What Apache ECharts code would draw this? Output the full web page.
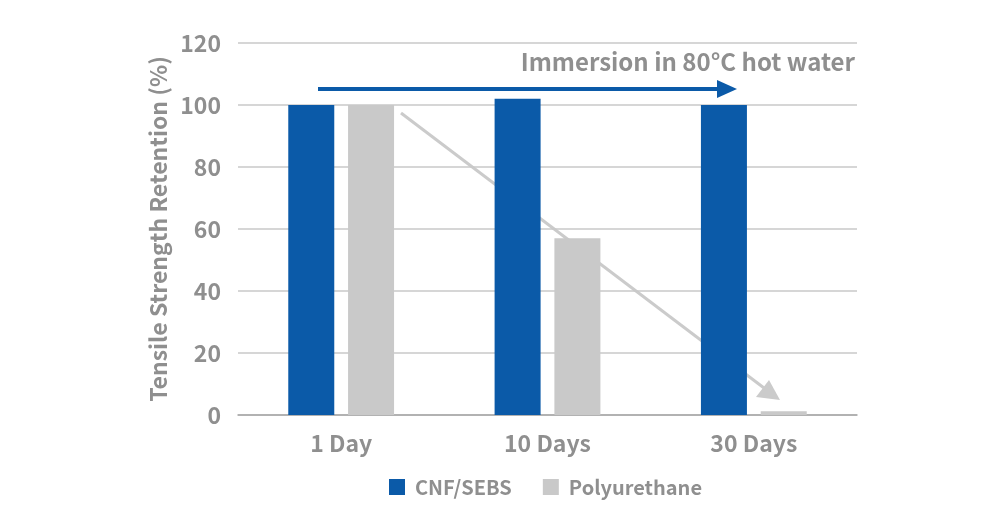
<!DOCTYPE html>
<html>
<head>
    <meta charset="UTF-8">
    <title>Tensile strength retention</title>
    <script src="https://cdn.jsdelivr.net/npm/echarts@6/dist/echarts.min.js"></script>
    <style>
        html, body { margin: 0; padding: 0; background: #fff; }
        #chart { width: 1000px; height: 530px; }
    </style>
</head>
<body>
    <div id="chart"></div>
    <script>
        var categories = ['1 Day', '10 Days', '30 Days'];
        var cnfSebs = [100, 102, 100];
        var polyurethane = [100, 57, 1.2];
        var yTicks = [0, 20, 40, 60, 80, 100, 120];

        var font = '"Noto Sans CJK JP", "Noto Sans", sans-serif';
        var textGray = '#8f8f8f';
        var blue = '#0b5aa8';
        var gray = '#c9c9c9';

        var chart = echarts.init(document.getElementById('chart'), null, {renderer: 'canvas'});

        chart.setOption({
            animation: false,
            grid: {left: 238, right: 143, top: 43, bottom: 115},
            legend: {
                top: 472,
                left: 384,
                itemWidth: 16,
                itemHeight: 16,
                itemGap: 31,
                icon: 'rect',
                textStyle: {color: textGray, fontSize: 20, fontWeight: 'bold', fontFamily: font, padding: [0, 0, 0, 5]},
                data: ['CNF/SEBS', 'Polyurethane']
            },
            xAxis: {
                type: 'category',
                data: categories,
                axisTick: {show: false},
                axisLine: {lineStyle: {color: '#a6a6a6', width: 1.5}},
                axisLabel: {color: textGray, fontSize: 23, fontWeight: 'bold', fontFamily: font, margin: 17}
            },
            yAxis: {
                type: 'value',
                min: yTicks[0],
                max: yTicks[yTicks.length - 1],
                interval: 20,
                name: 'Tensile Strength Retention (%)',
                nameLocation: 'middle',
                nameGap: 68,
                nameTextStyle: {color: textGray, fontSize: 23, fontWeight: 'bold', fontFamily: font},
                axisLine: {show: false},
                axisTick: {show: false},
                splitLine: {lineStyle: {color: '#c8c8c8', width: 1.5}},
                axisLabel: {color: textGray, fontSize: 23, fontWeight: 'bold', fontFamily: font, margin: 17}
            },
            series: [
                {
                    name: 'CNF/SEBS',
                    type: 'bar',
                    data: cnfSebs,
                    barWidth: 46,
                    barGap: '30%',
                    itemStyle: {color: blue}
                },
                {
                    name: 'Polyurethane',
                    type: 'bar',
                    data: polyurethane,
                    barWidth: 46,
                    itemStyle: {color: gray}
                }
            ],
            graphic: [
                {
                    type: 'line',
                    shape: {x1: 318, y1: 89, x2: 722, y2: 89},
                    style: {stroke: blue, lineWidth: 4}
                },
                {
                    type: 'polygon',
                    shape: {points: [[717, 80], [737, 89], [717, 98]]},
                    style: {fill: blue}
                },
                {
                    type: 'line',
                    shape: {x1: 401, y1: 113, x2: 768, y2: 391},
                    style: {stroke: '#cbcbcb', lineWidth: 3}
                },
                {
                    type: 'polygon',
                    shape: {points: [[780, 400], [756, 397], [769, 380]]},
                    style: {fill: '#cbcbcb'}
                },
                {
                    type: 'text',
                    right: 145,
                    top: 50,
                    style: {text: 'Immersion in 80°C hot water', fill: textGray, fontSize: 24, fontWeight: 'bold', fontFamily: font}
                }
            ]
        });
    </script>
</body>
</html>
